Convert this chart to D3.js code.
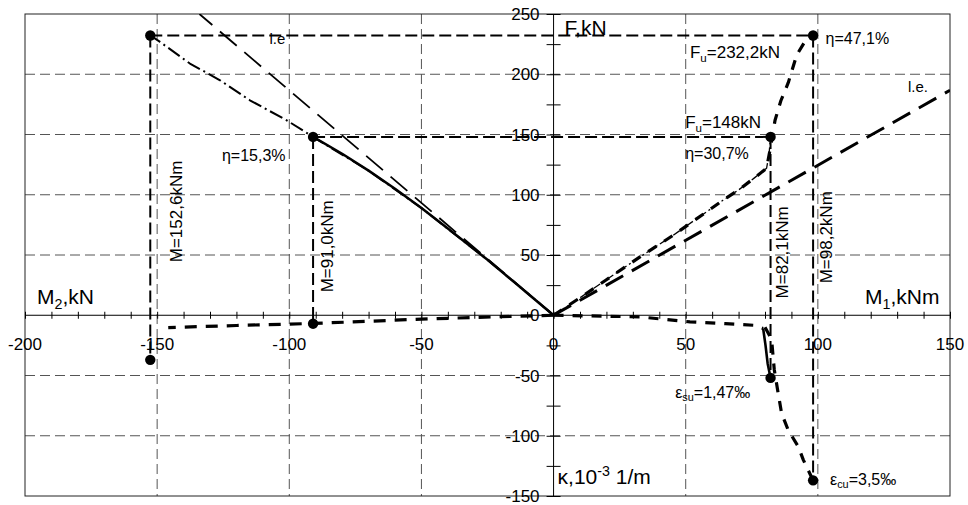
<!DOCTYPE html>
<html>
<head>
<meta charset="utf-8">
<script src="https://cdn.jsdelivr.net/npm/d3@7"></script>
<style>
  html,body{margin:0;padding:0;background:#fff;}
  svg text{font-family:"Liberation Sans",Arial,Helvetica,sans-serif;fill:#000;}
</style>
</head>
<body>
<svg id="chart" width="968" height="505"></svg>
<script>
// ---------- data ----------
const xTickLabels = [-200, -150, -100, -50, 0, 50, 100, 150];
const yTickLabels = [-150, -100, -50, 0, 50, 100, 150, 200, 250];
const xGrid = [-150, -100, -50, 50, 100];
const yGrid = [-100, -50, 50, 100, 150, 200];

// right branch (M1 - F), specimen 1 (dash-dot)
const s1RightM = [0, 10, 20, 32.7, 45, 58, 64.1, 70, 76, 80.6, 81.5, 82.1];
const s1RightF = [0, 14.5, 29.5, 48.4, 66, 86, 95.4, 104, 114, 122, 133, 148];
// right branch, specimen 2 (heavy dashed)
const s2RightM = [0, 10, 20, 32.7, 45, 58, 64.1, 70, 76, 80.6, 82.3, 83.8, 86, 88.8, 92, 95.8, 98.2];
const s2RightF = [0, 14.5, 29.5, 48.4, 66, 86, 95.4, 104, 114, 122, 142, 161.8, 178, 193, 216, 229.6, 232.2];
// left branch (M2 - F), specimen 1 (solid)
const s1LeftM = [0, -10, -25, -40, -50, -60, -70, -80, -91];
const s1LeftF = [0, 18.5, 46, 72, 89, 105, 120, 134, 148];
// left branch, specimen 2 (dash-dot)
const s2LeftM = [0, -10, -25, -50, -70, -91, -101, -114.9, -126.2, -137.6, -148.9, -152.6];
const s2LeftF = [0, 18.5, 46, 89, 120, 148, 161.8, 178.4, 195, 208.9, 226.8, 232.2];
// lower branches (strain), right
const s1LowRightM = [0, 20, 32.7, 51.6, 65, 75.6, 79.3, 80.2, 81, 82.1];
const s1LowRightV = [0, -0.8, -1.4, -5.5, -7, -8.3, -11, -25, -40, -52];
const s2LowRightM = [0, 20, 32.7, 51.6, 65, 75.6, 80, 82.5, 83.5, 85, 86.3, 88.8, 92.6, 94.5, 98.2];
const s2LowRightV = [0, -0.8, -1.4, -5.5, -7, -8.3, -10, -20, -45, -65, -81.6, -95.4, -109, -120, -137];
// lower branches, left
const s1LowLeftM = [0, -20, -50, -70, -91];
const s1LowLeftV = [0, -1.2, -3.2, -5, -6.8];
const s2LowLeftM = [0, -20, -50, -70, -91, -120, -145.8];
const s2LowLeftV = [0, -1.2, -3.2, -5, -6.8, -8.5, -10.2];

// linear-elastic reference lines
const leLeftM = [0, -134];
const leLeftF = [0, 250];
const leRightM = [0, 150];
const leRightF = [0, 186.7];

// key points
const pointM = [-152.6, -91, 82.1, 98.2, -152.6, -91, 82.1, 98.2];
const pointV = [232.2, 148, 148, 232.2, -37, -7, -52, -137];

// dashed guide lines (from, to)
const hGuideY = [232.2, 148];
const hGuideX1 = [-152.6, -91];
const hGuideX2 = [98.2, 82.1];
const vGuideX = [-152.6, -91, 82.1, 98.2];
const vGuideY1 = [232.2, 148, 148, 232.2];
const vGuideY2 = [-37, -7, -52, -137];

// ---------- chart ----------
const W = 968, H = 505;
const m = {left: 25, right: 18, top: 14, bottom: 9};
const svg = d3.select("#chart");
const x = d3.scaleLinear().domain([-200, 150]).range([m.left, W - m.right]);
const y = d3.scaleLinear().domain([-150, 250]).range([H - m.bottom, m.top]);

svg.append("defs").append("clipPath").attr("id", "clip")
  .append("rect").attr("x", x(-200)).attr("y", y(250))
  .attr("width", x(150) - x(-200)).attr("height", y(-150) - y(250));

// grid
const grid = svg.append("g").attr("stroke", "#555").attr("stroke-width", 1).attr("stroke-dasharray", "10,5");
grid.selectAll(".vg").data(xGrid).join("line")
  .attr("x1", d => x(d)).attr("x2", d => x(d)).attr("y1", y(250)).attr("y2", y(-150));
grid.selectAll(".hg").data(yGrid).join("line")
  .attr("y1", d => y(d)).attr("y2", d => y(d)).attr("x1", x(-200)).attr("x2", x(150));

// frame
svg.append("rect").attr("x", x(-200)).attr("y", y(250))
  .attr("width", x(150) - x(-200)).attr("height", y(-150) - y(250))
  .attr("fill", "none").attr("stroke", "#222").attr("stroke-width", 1);

// axes through origin
const xAxis = d3.axisBottom(x).tickValues(d3.range(-200, 151, 10)).tickSize(7).tickFormat("");
svg.append("g").attr("transform", `translate(0,${y(0) - 3.5})`).call(xAxis)
  .call(g => g.select(".domain").remove())
  .selectAll("line").attr("stroke", "#000");
svg.append("line").attr("x1", x(-200)).attr("x2", x(150)).attr("y1", y(0)).attr("y2", y(0)).attr("stroke", "#000");

const yAxis = d3.axisRight(y).tickValues(d3.range(-150, 251, 25)).tickSize(14).tickFormat("");
svg.append("g").attr("transform", `translate(${x(0) - 7},0)`).call(yAxis)
  .call(g => g.select(".domain").remove())
  .selectAll("line").attr("stroke", "#000");
svg.append("line").attr("x1", x(0)).attr("x2", x(0)).attr("y1", y(250)).attr("y2", y(-150)).attr("stroke", "#000");

// tick labels
svg.append("g").selectAll("text").data(xTickLabels).join("text")
  .attr("x", d => x(d)).attr("y", y(0) + 35).attr("text-anchor", "middle")
  .attr("font-size", 17).text(d => d);
svg.append("g").selectAll("text").data(yTickLabels).join("text")
  .attr("x", x(0) - 14).attr("y", d => y(d) + 6).attr("text-anchor", "end")
  .attr("font-size", 17).text(d => d);

const plot = svg.append("g").attr("clip-path", "url(#clip)");
const line = d3.line().x(d => x(d[0])).y(d => y(d[1]));
const zip = (a, b) => a.map((v, i) => [v, b[i]]);

// guide lines
hGuideY.forEach((v, i) => {
  plot.append("path").attr("d", line([[hGuideX1[i], v], [hGuideX2[i], v]]))
    .attr("fill", "none").attr("stroke", "#000").attr("stroke-width", 2).attr("stroke-dasharray", "12,5");
});
vGuideX.forEach((v, i) => {
  plot.append("path").attr("d", line([[v, vGuideY1[i]], [v, vGuideY2[i]]]))
    .attr("fill", "none").attr("stroke", "#000").attr("stroke-width", 2).attr("stroke-dasharray", "12,5");
});

// l.e. lines
plot.append("path").attr("d", line(zip(leLeftM, leLeftF)))
  .attr("fill", "none").attr("stroke", "#000").attr("stroke-width", 1.8).attr("stroke-dasharray", "22,10");
plot.append("path").attr("d", line(zip(leRightM, leRightF)))
  .attr("fill", "none").attr("stroke", "#000").attr("stroke-width", 3).attr("stroke-dasharray", "20,10");

// curves
function curve(a, b, w, dash) {
  const p = plot.append("path").attr("d", line(zip(a, b)))
    .attr("fill", "none").attr("stroke", "#000").attr("stroke-width", w)
    .attr("stroke-linejoin", "round");
  if (dash) p.attr("stroke-dasharray", dash);
}
curve(s2LeftM, s2LeftF, 2, "14,4,2,4");
curve(s1LeftM, s1LeftF, 2.5, null);
curve(s1RightM, s1RightF, 1.3, "8,3,2,3");
curve(s2RightM, s2RightF, 3.2, "10,9");
curve(s1LowRightM.slice(0, 7), s1LowRightV.slice(0, 7), 3.2, "10,9");
curve(s1LowRightM.slice(6), s1LowRightV.slice(6), 2.6, null);
curve(s2LowRightM.slice(6), s2LowRightV.slice(6), 3.2, "10,9");
curve(s2LowLeftM, s2LowLeftV, 3.2, "12,9");

// points
plot.selectAll(".pt").data(zip(pointM, pointV)).join("circle")
  .attr("cx", d => x(d[0])).attr("cy", d => y(d[1])).attr("r", 5.2).attr("fill", "#000");

// ---------- text ----------
function label(px, py, size, parts, rot) {
  const t = svg.append("text").attr("font-size", size);
  if (rot) t.attr("transform", `translate(${px},${py}) rotate(-90)`);
  else t.attr("x", px).attr("y", py);
  parts.forEach(p => {
    const s = t.append("tspan").text(p.t);
    if (p.sub) s.attr("font-size", size * 0.68).attr("dy", size * 0.22);
    if (p.sup) s.attr("font-size", size * 0.68).attr("dy", -size * 0.38);
    if (p.back) s.attr("dy", p.back);
  });
  return t;
}
// axis titles
label(x(0) + 11, y(250) + 21, 21, [{t: "F,kN"}]);
label(x(-200) + 12, y(0) - 11, 21, [{t: "M"}, {t: "2", sub: true}, {t: ",kN", back: -21 * 0.22}]);
label(x(150) - 85, y(0) - 11, 21, [{t: "M"}, {t: "1", sub: true}, {t: ",kNm", back: -21 * 0.22}]);
label(x(0) + 4, y(-150) - 12, 21, [{t: "κ,10"}, {t: "-3", sup: true}, {t: " 1/m", back: 21 * 0.38}]);

// l.e.
label(x(-107.5), y(225), 15, [{t: "l.e"}]);
label(x(134.1), y(185), 15, [{t: "l.e."}]);

// annotations
label(x(-125.5), y(128.2), 16, [{t: "η=15,3%"}]);
label(x(51.6), y(213.2), 17, [{t: "F"}, {t: "u", sub: true}, {t: "=232,2kN", back: -17 * 0.22}]);
label(x(102.9), y(225.5), 16, [{t: "η=47,1%"}]);
label(x(49.8), y(155), 17, [{t: "F"}, {t: "u", sub: true}, {t: "=148kN", back: -17 * 0.22}]);
label(x(49.8), y(129.5), 16, [{t: "η=30,7%"}]);
label(x(46), y(-68.5), 16, [{t: "ε"}, {t: "su", sub: true}, {t: "=1,47‰", back: -16 * 0.22}]);
label(x(104.6), y(-140.5), 16, [{t: "ε"}, {t: "cu", sub: true}, {t: "=3,5‰", back: -16 * 0.22}]);

// vertical moment labels
label(x(-140.6), y(44), 17, [{t: "M=152,6kNm"}], true);
label(x(-83.4), y(19), 17, [{t: "M=91,0kNm"}], true);
label(x(88.7), y(14), 17, [{t: "M=82,1kNm"}], true);
label(x(105.4), y(26.5), 17, [{t: "M=98,2kNm"}], true);
</script>
</body>
</html>
